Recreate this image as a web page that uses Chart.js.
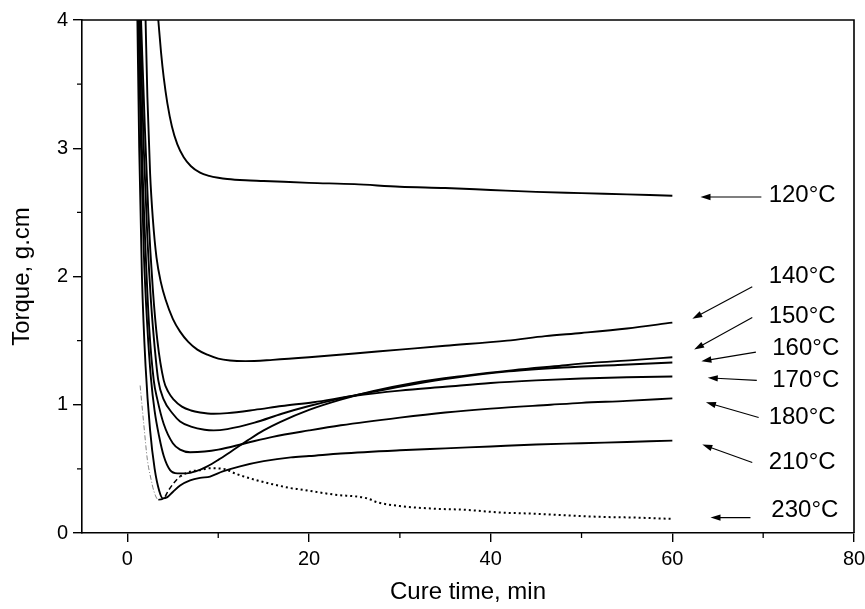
<!DOCTYPE html>
<html>
<head>
<meta charset="utf-8">
<script src="https://cdn.jsdelivr.net/npm/chart.js@4.4.1/dist/chart.umd.min.js"></script>
<style>
  html, body { margin: 0; padding: 0; background: #fff; }
  #torque { display: block; }
</style>
</head>
<body>
<canvas id="torque" width="865" height="609"></canvas>
<script>
// cure time (min) and torque (g.cm), one pair per temperature
const t120 = [3.4, 3.7, 4.0, 4.4, 4.9, 5.5, 6.2, 7.0, 8.0, 9.0, 10, 11, 13, 15, 20, 25, 30, 35, 40, 45, 50, 55, 60];
const v120 = [4.0, 3.75, 3.55, 3.35, 3.17, 3.03, 2.93, 2.86, 2.81, 2.785, 2.77, 2.76, 2.75, 2.745, 2.73, 2.72, 2.70, 2.69, 2.675, 2.66, 2.65, 2.64, 2.63];

const t140 = [2.0, 2.2, 2.5, 2.8, 3.2, 3.7, 4.2, 5.0, 5.8, 6.7, 7.7, 8.8, 10, 11.3, 13, 16, 20, 25, 30, 35, 41.8, 46, 50, 55, 60];
const v140 = [4.0, 3.4, 2.8, 2.45, 2.15, 1.95, 1.82, 1.67, 1.57, 1.49, 1.43, 1.39, 1.36, 1.345, 1.34, 1.35, 1.37, 1.40, 1.43, 1.46, 1.50, 1.535, 1.56, 1.595, 1.64];

const t150 = [1.5, 1.9, 2.3, 2.8, 3.3, 4.0, 4.5, 5.1, 6.0, 7.0, 8.0, 9.5, 11, 14, 17, 20.5, 25, 30, 35, 40, 45, 50, 55, 60];
const v150 = [4.0, 3.2, 2.5, 1.9, 1.5, 1.19, 1.1, 1.04, 0.985, 0.955, 0.94, 0.93, 0.935, 0.96, 0.99, 1.02, 1.07, 1.11, 1.14, 1.17, 1.19, 1.205, 1.215, 1.22];

const t160 = [1.4, 1.8, 2.2, 2.6, 3.0, 3.4, 4.0, 5.0, 5.8, 7.0, 8.5, 9.5, 11, 14, 17, 20, 23.5, 27, 31.5, 36, 42, 48, 54, 60];
const v160 = [4.0, 3.0, 2.3, 1.8, 1.45, 1.19, 1.04, 0.93, 0.87, 0.83, 0.805, 0.80, 0.81, 0.86, 0.93, 0.99, 1.05, 1.10, 1.16, 1.21, 1.26, 1.29, 1.31, 1.33];

const t170 = [1.3, 1.6, 2.0, 2.4, 2.9, 3.3, 4.0, 5.0, 5.8, 6.9, 8.5, 10, 13, 16, 20, 23.5, 30, 35, 40, 46.6, 50, 55, 60];
const v170 = [4.0, 3.0, 2.2, 1.6, 1.19, 1.04, 0.85, 0.70, 0.65, 0.63, 0.635, 0.65, 0.70, 0.75, 0.80, 0.84, 0.90, 0.94, 0.97, 1.0, 1.015, 1.03, 1.05];

const t180 = [1.2, 1.5, 1.8, 2.2, 2.6, 3.0, 3.5, 4.0, 4.7, 5.5, 6.5, 7.5, 8.8, 10, 11.5, 13.2, 15, 16.8, 20, 23.5, 27, 31.5, 37, 42.5, 47, 51.7, 56, 60];
const v180 = [4.0, 3.0, 2.2, 1.6, 1.2, 0.95, 0.75, 0.6, 0.49, 0.465, 0.465, 0.48, 0.52, 0.57, 0.64, 0.72, 0.80, 0.865, 0.96, 1.04, 1.105, 1.17, 1.225, 1.27, 1.30, 1.33, 1.35, 1.37];

const t210 = [1.1, 1.3, 1.6, 2.0, 2.5, 3.0, 3.5, 3.9, 4.4, 5.0, 5.8, 6.9, 8, 9.1, 10.5, 12.4, 15, 18, 20, 23.5, 30, 35, 40, 45, 50, 55, 60];
const v210 = [4.0, 3.0, 2.0, 1.3, 0.8, 0.5, 0.33, 0.27, 0.28, 0.32, 0.37, 0.41, 0.43, 0.44, 0.48, 0.52, 0.56, 0.59, 0.60, 0.62, 0.645, 0.66, 0.675, 0.69, 0.70, 0.71, 0.72];

const t230 = [1.4, 1.8, 2.2, 2.6, 2.9, 3.4, 4.0, 4.5, 5.0, 5.8, 7, 8, 9, 10.6, 12, 14.3, 16, 18, 19, 22.7, 26.4, 27.5, 30, 33.7, 37.4, 41, 45, 49, 52.5, 56, 60];
const v230 = [1.15, 0.85, 0.57, 0.42, 0.33, 0.26, 0.27, 0.33, 0.38, 0.44, 0.48, 0.49, 0.505, 0.50, 0.46, 0.41, 0.38, 0.35, 0.34, 0.30, 0.27, 0.24, 0.21, 0.19, 0.18, 0.16, 0.15, 0.135, 0.125, 0.12, 0.11];

const xTicks = [0, 20, 40, 60, 80];
const yTicks = [0, 1, 2, 3, 4];
const xMinor = [10, 30, 50, 70];
const yMinor = [0.5, 1.5, 2.5, 3.5];

// labels on the right with their arrows (data units)
const tempLabels = ['120°C', '140°C', '150°C', '160°C', '170°C', '180°C', '210°C', '230°C'];
const labelX     = [70.6, 70.6, 70.6, 71.0, 71.0, 70.6, 70.6, 70.9];
const labelY     = [2.63, 2.00, 1.69, 1.44, 1.19, 0.90, 0.55, 0.18];
const arrowFromX = [69.8, 68.8, 68.8, 69.2, 69.3, 69.5, 68.8, 68.6];
const arrowFromY = [2.62, 1.92, 1.68, 1.41, 1.19, 0.90, 0.55, 0.12];
const arrowToX   = [63.1, 62.2, 62.4, 63.2, 63.9, 63.7, 63.3, 64.2];
const arrowToY   = [2.62, 1.67, 1.43, 1.34, 1.21, 1.02, 0.69, 0.12];

const FONT = "'Liberation Sans', Arial, sans-serif";

function pts(xs, ys) {
    return xs.map((x, i) => ({ x: x, y: ys[i] }));
}

function solid(xs, ys) {
    return {
        data: pts(xs, ys),
        borderColor: '#000',
        borderWidth: 1.9,
        pointRadius: 0,
        cubicInterpolationMode: 'monotone',
        fill: false
    };
}

const dotted230 = {
    data: pts(t230, v230),
    borderColor: '#000',
    borderWidth: 2,
    borderDash: [2, 3],
    pointRadius: 0,
    cubicInterpolationMode: 'monotone',
    fill: false,
    segment: {
        borderWidth: ctx => ctx.p0.parsed.x < 3.4 ? 0.8 : (ctx.p0.parsed.x < 5.8 ? 1.5 : 2),
        borderDash: ctx => ctx.p0.parsed.x < 3.4 ? [5, 2, 1, 2] : (ctx.p0.parsed.x < 5.8 ? [5, 3] : [2, 3]),
        borderColor: ctx => ctx.p0.parsed.x < 3.4 ? '#666' : '#000'
    }
};

const extras = {
    id: 'extras',
    afterDraw(chart) {
        const ctx = chart.ctx;
        const xs = chart.scales.x, ys = chart.scales.y;
        const a = chart.chartArea;
        ctx.save();
        ctx.strokeStyle = '#000';
        ctx.fillStyle = '#000';
        // box on top and right
        ctx.lineWidth = 1.6;
        ctx.beginPath();
        ctx.moveTo(a.left, a.top);
        ctx.lineTo(a.right, a.top);
        ctx.lineTo(a.right, a.bottom);
        ctx.stroke();
        // minor ticks
        ctx.lineWidth = 1.3;
        ctx.beginPath();
        xMinor.forEach(v => {
            const px = xs.getPixelForValue(v);
            ctx.moveTo(px, a.bottom);
            ctx.lineTo(px, a.bottom + 5);
        });
        yMinor.forEach(v => {
            const py = ys.getPixelForValue(v);
            ctx.moveTo(a.left, py);
            ctx.lineTo(a.left - 5, py);
        });
        ctx.stroke();
        // arrows
        ctx.lineWidth = 1.1;
        tempLabels.forEach((txt, i) => {
            const x0 = xs.getPixelForValue(arrowFromX[i]), y0 = ys.getPixelForValue(arrowFromY[i]);
            const x1 = xs.getPixelForValue(arrowToX[i]), y1 = ys.getPixelForValue(arrowToY[i]);
            const ang = Math.atan2(y1 - y0, x1 - x0);
            const hl = 10, hw = 3.2;
            ctx.beginPath();
            ctx.moveTo(x0, y0);
            ctx.lineTo(x1 - Math.cos(ang) * hl * 0.8, y1 - Math.sin(ang) * hl * 0.8);
            ctx.stroke();
            ctx.beginPath();
            ctx.moveTo(x1, y1);
            ctx.lineTo(x1 - Math.cos(ang) * hl - Math.sin(ang) * hw, y1 - Math.sin(ang) * hl + Math.cos(ang) * hw);
            ctx.lineTo(x1 - Math.cos(ang) * hl + Math.sin(ang) * hw, y1 - Math.sin(ang) * hl - Math.cos(ang) * hw);
            ctx.closePath();
            ctx.fill();
            // label
            ctx.font = '24px ' + FONT;
            ctx.textAlign = 'left';
            ctx.textBaseline = 'middle';
            ctx.fillText(txt, xs.getPixelForValue(labelX[i]), ys.getPixelForValue(labelY[i]));
        });
        ctx.restore();
    }
};

new Chart(document.getElementById('torque').getContext('2d'), {
    type: 'line',
    data: {
        datasets: [
            solid(t120, v120),
            solid(t140, v140),
            solid(t150, v150),
            solid(t160, v160),
            solid(t170, v170),
            solid(t180, v180),
            solid(t210, v210),
            dotted230
        ]
    },
    options: {
        responsive: false,
        animation: false,
        layout: { padding: { top: 20, right: 0, left: 0, bottom: 0 } },
        plugins: { legend: { display: false }, tooltip: { enabled: false } },
        scales: {
            x: {
                type: 'linear',
                min: -5,
                max: 80,
                afterBuildTicks: s => { s.ticks = xTicks.map(v => ({ value: v })); },
                afterFit: s => { s.height = 76; s.paddingRight = 11; },
                ticks: { color: '#000', font: { family: FONT, size: 20 }, padding: 5, maxRotation: 0 },
                grid: { drawOnChartArea: false, tickLength: 9, color: '#000', lineWidth: 1.4 },
                border: { color: '#000', width: 1.6 },
                title: { display: true, text: 'Cure time, min', color: '#000', font: { family: FONT, size: 24 }, padding: { top: 2, bottom: 2 } }
            },
            y: {
                type: 'linear',
                min: 0,
                max: 4,
                afterBuildTicks: s => { s.ticks = yTicks.map(v => ({ value: v })); },
                afterFit: s => { s.width = 82; },
                ticks: { color: '#000', font: { family: FONT, size: 20 }, padding: 5 },
                grid: { drawOnChartArea: false, tickLength: 9, color: '#000', lineWidth: 1.4 },
                border: { color: '#000', width: 1.6 },
                title: { display: true, text: 'Torque, g.cm', color: '#000', font: { family: FONT, size: 24 }, padding: { top: 8, bottom: 0 } }
            }
        }
    },
    plugins: [extras]
});
</script>
</body>
</html>
